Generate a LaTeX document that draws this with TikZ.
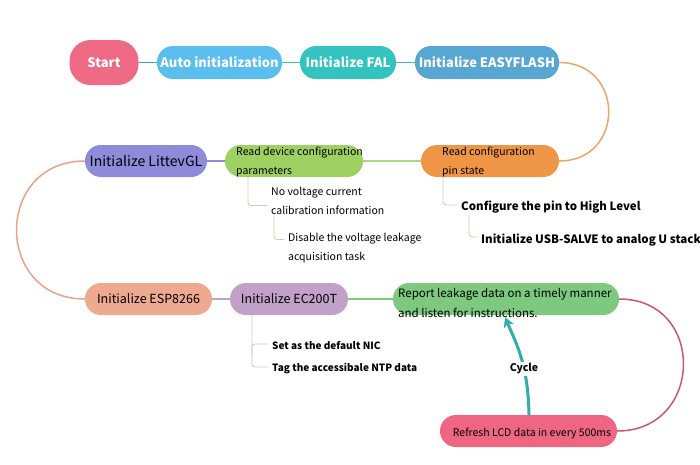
\documentclass[tikz,border=0pt]{standalone}
\usepackage{fontspec}
\setmainfont{Noto Sans CJK SC}
\usetikzlibrary{arrows.meta,calc}

\definecolor{cStart}{HTML}{EF6A84}
\definecolor{cAuto}{HTML}{5ABEEE}
\definecolor{cFal}{HTML}{34C3BE}
\definecolor{cEasy}{HTML}{58A7D3}
\definecolor{cPin}{HTML}{EE9646}
\definecolor{cDev}{HTML}{9FD062}
\definecolor{cLvgl}{HTML}{8F8BDB}
\definecolor{cEsp}{HTML}{EEA991}
\definecolor{cEc}{HTML}{C2A1C8}
\definecolor{cReport}{HTML}{7CC97F}
\definecolor{cLcd}{HTML}{EE6681}
\definecolor{cTan}{HTML}{D8C9A6}
\definecolor{cGrey}{HTML}{C9C9C9}

\tikzset{
  pill/.style={rounded corners=15.9pt, minimum height=32pt, inner sep=0pt, draw=none},
  topfont/.style={text=white, font=\bfseries\fontsize{13}{15}\selectfont},
  midfont/.style={text=black, font=\fontsize{12.5}{15}\selectfont},
  subfont/.style={text=black, font=\fontsize{10.5}{19}\selectfont, align=left, inner sep=2pt},
  branch/.style={line width=0.9pt, rounded corners=3pt},
  link/.style={line width=1.8pt},
}

\begin{document}
\begin{tikzpicture}[x=1pt,y=1pt,yscale=-1]
\useasboundingbox (0,0) rectangle (700,464);

%Shape: first row
\node [pill, fill=cStart, rounded corners=21pt, minimum width=69pt, minimum height=45pt, topfont] (start) at (104,62.5) {Start};
\node [pill, fill=cAuto, minimum width=125pt, minimum height=33pt, topfont] (auto) at (219.5,62.5) {Auto initialization};
\node [pill, fill=cFal, minimum width=96pt, minimum height=33pt, topfont] (fal) at (348,62.5) {Initialize FAL};
\node [pill, fill=cEasy, minimum width=144pt, minimum height=33pt, topfont] (easy) at (487,62.5) {Initialize EASYFLASH};

%Shape: second row
\node [pill, fill=cPin, minimum width=138pt] (pin) at (490,161) {};
\node [pill, fill=cDev, minimum width=138pt] (dev) at (294,161) {};
\node [pill, fill=cLvgl, minimum width=122pt, midfont, font=\fontsize{14}{16}\selectfont] (lvgl) at (146,161) {Initialize LittevGL};

%Shape: third row
\node [pill, fill=cEsp, minimum width=127pt, midfont] (esp) at (148.5,299) {Initialize ESP8266};
\node [pill, fill=cEc, minimum width=118pt, midfont] (ec) at (289,299) {Initialize EC200T};
\node [pill, fill=cReport, minimum width=226pt] (report) at (506,299) {};
\node [pill, fill=cLcd, minimum width=177pt] (lcd) at (528.5,431) {};

% Text Node
\node [subfont, anchor=west] (pintxt) at (440,162) {Read configuration\\pin state};
% Text Node
\node [subfont, anchor=west] (devtxt) at (234,162) {Read device configuration\\parameters};
% Text Node
\node [subfont, anchor=west, font=\fontsize{11.5}{20}\selectfont] (reporttxt) at (396,303) {Report leakage data on a timely manner\\and listen for instructions.};
% Text Node
\node [subfont, anchor=center, font=\fontsize{10.5}{12}\selectfont] (lcdtxt) at (532,433) {Refresh LCD data in every 500ms};

% Text Node
\node [subfont, anchor=west] (novolt) at (269,200.5) {No voltage current\\calibration information};
% Text Node
\node [subfont, anchor=west] (disable) at (286,248.5) {Disable the voltage leakage\\acquisition task};
% Text Node
\node [subfont, anchor=west, font=\bfseries\fontsize{11.5}{14}\selectfont] (highlvl) at (459,207) {Configure the pin to High Level};
% Text Node
\node [subfont, anchor=west, font=\bfseries\fontsize{11.5}{14}\selectfont] (usb) at (479,240) {Initialize USB-SALVE to analog U stack};
% Text Node
\node [subfont, anchor=west, font=\bfseries\fontsize{10}{12}\selectfont] (nic) at (270,345) {Set as the default NIC};
% Text Node
\node [subfont, anchor=west, font=\bfseries\fontsize{10}{12}\selectfont] (ntp) at (270,369) {Tag the accessibale NTP data};

%Straight Lines
\draw [link, color=cFal!80!black!90] (start) -- (auto);
\draw [link, color=cFal] (auto) -- (fal);
\draw [link, color=cEasy] (fal) -- (easy);
\draw [link, color=cDev!85!white] (pin) -- (dev);
\draw [link, color=cLvgl] (dev) -- (lvgl);
\draw [link, color=cEc] (esp) -- (ec);
\draw [link, color=cReport] (ec) -- (report);

%Curves
\draw [line width=1.5pt, color=cPin!75!brown!80] (easy.east) .. controls +(66,0) and +(66,0) .. (pin.east);
\draw [line width=1.5pt, color=cEsp!85!brown] (lvgl.west) .. controls +(-91,0) and +(-91,0) .. (esp.west);
\draw [line width=1.5pt, color=cLcd!85!black] (report.east) .. controls +(87,0) and +(87,0) .. (lcd.east);

%Branches
\draw [branch, color=cTan] ($(dev.south)+(-46,0)$) |- ($(novolt.west)+(-2,5)$);
\draw [branch, color=cTan] ($(novolt.west)+(5,14)$) |- ($(disable.west)+(-2,-9)$);
\draw [branch, color=cTan] ($(pin.south)+(-47,0)$) |- ($(highlvl.west)+(-2,-2)$);
\draw [branch, color=cTan] ($(highlvl.west)+(10,8)$) |- ($(usb.west)+(-2,-3)$);
\draw [branch, color=cGrey] ($(ec.south)+(-37,0)$) |- ($(ntp.west)+(-2,-2)$);
\draw [branch, color=cGrey] ($(ec.south)+(-37,40)$) |- ($(nic.west)+(-2,-1)$);

%Cycle arrow
\draw [line width=3pt, color=cFal!90!black, -{Stealth[length=10pt,width=11pt]}] ($(lcd.north)+(0.5,0)$) .. controls +(-1,-50) and +(12,28) .. ($(report.south)+(-1,2)$) node [pos=0.38, fill=white, inner sep=1.5pt, text=black, font=\bfseries\fontsize{10.5}{12}\selectfont] (cycle) {Cycle};

\end{tikzpicture}
\end{document}
